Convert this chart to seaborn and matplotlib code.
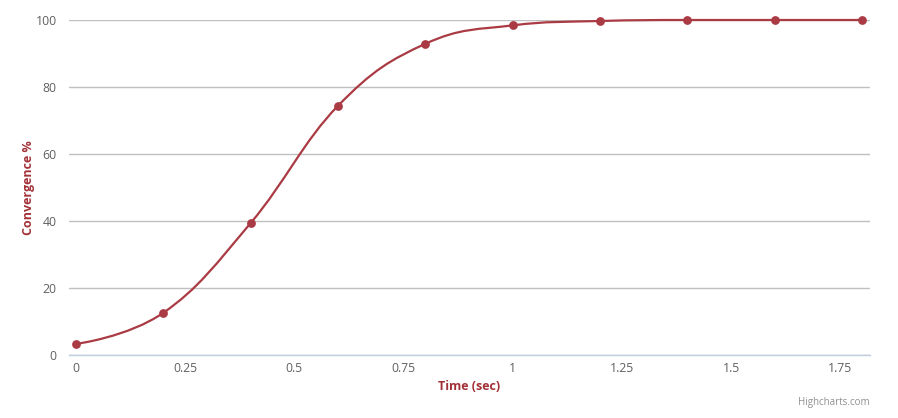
import numpy as np
import matplotlib
matplotlib.use("Agg")
import matplotlib.pyplot as plt
import seaborn as sns
from matplotlib.path import Path
from matplotlib.patches import PathPatch

time_sec = [0, 0.2, 0.4, 0.6, 0.8, 1.0, 1.2, 1.4, 1.6, 1.8]
convergence = [3.3, 12.6, 39.4, 74.4, 92.9, 98.4, 99.7, 100, 100, 100]

x_ticks = [0, 0.25, 0.5, 0.75, 1, 1.25, 1.5, 1.75]
x_tick_labels = ["0", "0.25", "0.5", "0.75", "1", "1.25", "1.5", "1.75"]
y_ticks = [0, 20, 40, 60, 80, 100]

red = "#aa3b44"
title_red = "#a33238"
grid_col = "#c0c0c0"
axis_col = "#c0d0e0"
label_col = "#606060"

sns.set_style("white")
plt.rcParams["font.family"] = ["Open Sans", "DejaVu Sans"]


def spline_path(xs, ys, smoothing=1.5):
    # highcharts-like spline control points
    denom = smoothing + 1
    n = len(xs)
    left = [None] * n
    right = [None] * n
    for i in range(n):
        if i == 0 or i == n - 1:
            left[i] = (xs[i], ys[i])
            right[i] = (xs[i], ys[i])
            continue
        lx = (smoothing * xs[i] + xs[i - 1]) / denom
        ly = (smoothing * ys[i] + ys[i - 1]) / denom
        rx = (smoothing * xs[i] + xs[i + 1]) / denom
        ry = (smoothing * ys[i] + ys[i + 1]) / denom
        if rx != lx:
            corr = (ry - ly) * (rx - xs[i]) / (rx - lx) + ys[i] - ry
            ly += corr
            ry += corr
        if ly > ys[i - 1] and ly > ys[i]:
            ly = max(ys[i - 1], ys[i])
            ry = 2 * ys[i] - ly
        elif ly < ys[i - 1] and ly < ys[i]:
            ly = min(ys[i - 1], ys[i])
            ry = 2 * ys[i] - ly
        if ry > ys[i + 1] and ry > ys[i]:
            ry = max(ys[i + 1], ys[i])
            ly = 2 * ys[i] - ry
        elif ry < ys[i + 1] and ry < ys[i]:
            ry = min(ys[i + 1], ys[i])
            ly = 2 * ys[i] - ry
        left[i] = (lx, ly)
        right[i] = (rx, ry)
    verts = [(xs[0], ys[0])]
    codes = [Path.MOVETO]
    for i in range(1, n):
        verts += [right[i - 1], left[i], (xs[i], ys[i])]
        codes += [Path.CURVE4] * 3
    return Path(verts, codes)


fig = plt.figure(figsize=(8.98, 4.18), dpi=100)
ax = fig.add_axes([69 / 898, 1 - 355 / 418, (870 - 69) / 898, (355 - 20) / 418])

ax.add_patch(PathPatch(spline_path(time_sec, convergence), facecolor="none",
                       edgecolor=red, lw=1.6, zorder=3, capstyle="round",
                       clip_on=False))
sns.scatterplot(x=time_sec, y=convergence, ax=ax, color=red, s=40,
                edgecolor=red, linewidth=0, zorder=4, clip_on=False)

ax.set_xlim(-0.016, 1.818)
ax.set_ylim(0, 100)
ax.set_xticks(x_ticks)
ax.set_xticklabels(x_tick_labels)
ax.set_yticks(y_ticks)

ax.grid(axis="y", color=grid_col, lw=1)
ax.set_axisbelow(True)
for s in ["top", "right", "left"]:
    ax.spines[s].set_visible(False)
ax.spines["bottom"].set_color(axis_col)
ax.spines["bottom"].set_linewidth(1)
ax.spines["bottom"].set_zorder(2)

ax.tick_params(axis="x", colors=axis_col, length=5, width=1, labelcolor=label_col,
               labelsize=8.8, pad=0)
ax.tick_params(axis="y", length=0, labelcolor=label_col, labelsize=8.8, pad=9)

ax.set_xlabel("Time (sec)", color=title_red, fontsize=9, fontweight="bold", labelpad=4)
ax.set_ylabel("Convergence %", color=title_red, fontsize=9, fontweight="bold", labelpad=0)

fig.text(870 / 898, 1 - 402 / 418, "Highcharts.com", ha="right", va="center",
         fontsize=7, color="#909090")

fig.savefig("out.png", dpi=100)
